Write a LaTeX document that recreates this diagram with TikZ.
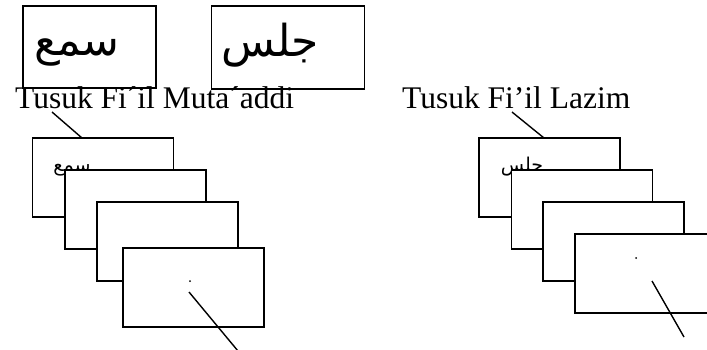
\documentclass[tikz,border=0pt]{standalone}
\usepackage{fontspec}
\setmainfont{Liberation Serif}
\newfontfamily\arabicfont[Script=Arabic]{DejaVu Sans}
\TeXXeTstate=1
\begin{document}
\begin{tikzpicture}[x=1pt,y=-1pt,
  frame/.style={draw, line width=1.5pt, fill=white, inner sep=0pt},
  card/.style={frame, minimum width=141pt, minimum height=79pt},
  lbl/.style={anchor=base west, inner sep=0pt, font=\fontsize{31.5}{32}\selectfont},
  bigar/.style={inner sep=0pt, font=\arabicfont\fontsize{44}{46}\selectfont},
  smallar/.style={inner sep=0pt, font=\arabicfont\fontsize{19}{20}\selectfont},
  link/.style={line width=1.4pt},
  dotmark/.style={circle, fill, inner sep=0pt, minimum size=2pt}]
\clip (0,0) rectangle (707,349);
% top boxes
\node[frame, minimum width=133pt, minimum height=82pt] (top1) at (89.5,47) {};
\node[bigar] (t1) at (77,52) {\beginR سمع\endR};
\node[frame, minimum width=153pt, minimum height=83pt] (top2) at (288,47.5) {};
\node[bigar] (t2) at (270,45) {\beginR جلس\endR};
% labels
\node[lbl] (lab1) at (15,108) {Tusuk Fi´il Muta´addi};
\node[lbl] (lab2) at (402,108) {Tusuk Fi’il Lazim};
% left stack
\node[card] (la) at (103,177.5) {};
\node[smallar] (las) at (72,170) {\beginR سمع\endR};
\node[card] (lb) at (135.5,209.5) {};
\node[card] (lc) at (167.5,241.5) {};
\node[card] (ld) at (193.5,287.5) {};
\node[dotmark] (ldot) at (190,281) {};
% right stack
\node[card] (ra) at (549.5,177.5) {};
\node[smallar] (ras) at (522,167) {\beginR جلس\endR};
\node[card] (rb) at (582,209.5) {};
\node[card] (rc) at (613.5,241.5) {};
\node[card] (rd) at (645.5,273.5) {};
\node[dotmark] (rdot) at (636,258) {};
% connectors
\coordinate (l1s) at (52,112);
\coordinate (l1e) at (82,138);
\draw[link] (l1s) -- (l1e);
\coordinate (l2s) at (512,112);
\coordinate (l2e) at (544,138);
\draw[link] (l2s) -- (l2e);
\coordinate (l3s) at (189,292);
\coordinate (l3e) at (238,351);
\draw[link] (l3s) -- (l3e);
\coordinate (l4s) at (652,281);
\coordinate (l4e) at (684,337);
\draw[link] (l4s) -- (l4e);
\end{tikzpicture}
\end{document}
